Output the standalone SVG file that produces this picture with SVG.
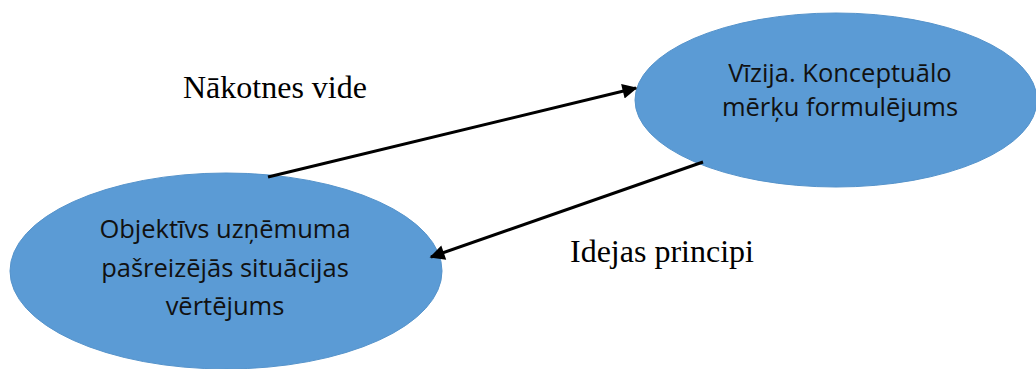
<svg xmlns="http://www.w3.org/2000/svg" width="1036" height="369" viewBox="0 0 1036 369">
<style>
.node{fill:#5b9bd5;stroke:#5593cb;stroke-width:1}
.nt{font-family:"Open Sans","Noto Sans",sans-serif;font-size:25.5px;fill:#111;text-anchor:middle}
.lbl{font-family:"Liberation Serif","Times New Roman",serif;font-size:32px;fill:#000}
.conn{stroke:#000;stroke-width:3;fill:none;marker-end:url(#ah)}
</style>
<defs>
<marker id="ah" viewBox="0 0 10 10" refX="9" refY="5" markerWidth="5.5" markerHeight="5" orient="auto" markerUnits="strokeWidth">
<path d="M0,0 L10,5 L0,10 z" fill="#000"/>
</marker>
</defs>
<rect width="1036" height="369" fill="#fff"/>
<g id="node-vizija">
<ellipse class="node" cx="836" cy="100" rx="201" ry="87"/>
<text class="nt" x="840" y="82">Vīzija. Konceptuālo</text>
<text class="nt" x="840" y="116">mērķu formulējums</text>
</g>
<g id="node-objektivs">
<ellipse class="node" cx="226" cy="271" rx="216" ry="98"/>
<text class="nt" x="225" y="238">Objektīvs uzņēmuma</text>
<text class="nt" x="225" y="277">pašreizējās situācijas</text>
<text class="nt" x="225" y="315">vērtējums</text>
</g>
<g id="connectors">
<line class="conn" x1="268" y1="177" x2="636" y2="88"/>
<line class="conn" x1="703" y1="162" x2="431" y2="257"/>
</g>
<g id="labels">
<text class="lbl" x="183" y="98">Nākotnes vide</text>
<text class="lbl" x="570" y="262">Idejas principi</text>
</g>
</svg>
